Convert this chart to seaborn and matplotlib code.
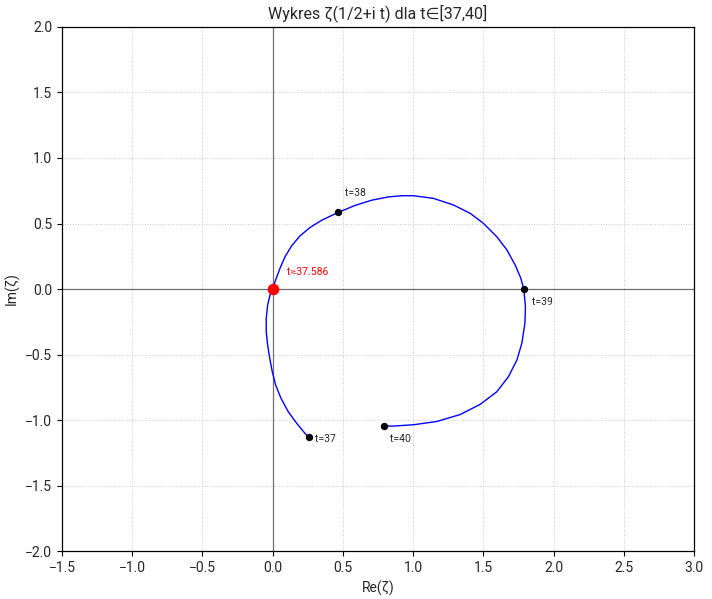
import matplotlib
matplotlib.use("Agg")
import matplotlib.pyplot as plt
import seaborn as sns
import pandas as pd

# curve of zeta(1/2 + i t), t in [37, 40]
re_vals = [0.259, 0.230, 0.171, 0.111, 0.059, 0.021, -0.003, -0.021, -0.036, -0.046,
           -0.046, -0.036, -0.019, 0.0,
           0.021, 0.052, 0.088, 0.135, 0.194, 0.266, 0.349, 0.467, 0.586, 0.705, 0.824,
           0.919, 1.001, 1.144, 1.287, 1.405, 1.500, 1.595, 1.667, 1.726, 1.766, 1.787,
           1.799, 1.795, 1.773, 1.738, 1.678, 1.595, 1.477, 1.334, 1.168, 1.001, 0.859,
           0.793]
im_vals = [-1.132, -1.102, -1.025, -0.937, -0.834, -0.733, -0.631, -0.529, -0.427, -0.326,
           -0.224, -0.122, -0.046, 0.0,
           0.069, 0.158, 0.247, 0.330, 0.405, 0.470, 0.525, 0.585, 0.638, 0.678, 0.703,
           0.712, 0.712, 0.692, 0.641, 0.578, 0.501, 0.399, 0.298, 0.183, 0.082, 0.0,
           -0.135, -0.262, -0.415, -0.542, -0.669, -0.784, -0.880, -0.958, -1.011, -1.036,
           -1.046, -1.046]

mark_t = ["t=37", "t=38", "t=39", "t=40"]
mark_re = [0.259, 0.467, 1.787, 0.793]
mark_im = [-1.132, 0.585, 0.0, -1.046]

zero_label = "t≈37.586"
zero_re = [0.0]
zero_im = [0.0]

sns.set_style("white")
plt.rcParams["font.family"] = ["Roboto", "DejaVu Sans"]

fig = plt.figure(figsize=(7.12, 5.99), dpi=100)
ax = fig.add_axes([0.087, 0.080, 0.888, 0.875])

curve = pd.DataFrame({"re": re_vals, "im": im_vals})
ax.axhline(0, color="#707070", lw=0.9, zorder=1)
ax.axvline(0, color="#707070", lw=0.9, zorder=1)
sns.lineplot(data=curve, x="re", y="im", sort=False, estimator=None,
             color="blue", lw=1.0, ax=ax, zorder=2)

sns.scatterplot(x=mark_re, y=mark_im, color="black", s=28, edgecolor="black",
                linewidth=0, ax=ax, zorder=3)
offsets = [(4.5, -1.5), (5, 14), (6, -9), (4, -9)]
for lab, x, y, off in zip(mark_t, mark_re, mark_im, offsets):
    ax.annotate(lab, (x, y), xytext=off, textcoords="offset points",
                fontsize=7.5, va="center", ha="left")

sns.scatterplot(x=zero_re, y=zero_im, color="red", s=70, edgecolor="red",
                linewidth=0, ax=ax, zorder=4)
ax.annotate(zero_label, (zero_re[0], zero_im[0]), xytext=(10, 12),
            textcoords="offset points", fontsize=7.5, color="red",
            va="center", ha="left")

ax.set_xlim(-1.5, 3.0)
ax.set_ylim(-2.0, 2.0)
ax.set_xticks([-1.5, -1.0, -0.5, 0.0, 0.5, 1.0, 1.5, 2.0, 2.5, 3.0])
ax.set_yticks([-2.0, -1.5, -1.0, -0.5, 0.0, 0.5, 1.0, 1.5, 2.0])
ax.grid(True, linestyle=":", color="#bbbbbb", lw=0.7, alpha=0.8)
for sp in ax.spines.values():
    sp.set_color("black")
    sp.set_linewidth(0.9)
ax.tick_params(axis="both", labelsize=10, length=3.5, width=0.8, color="black",
               bottom=True, left=True)
ax.set_xlabel("Re(ζ)", fontsize=10)
ax.set_ylabel("Im(ζ)", fontsize=10)
ax.set_title("Wykres ζ(1/2+i t) dla t∈[37,40]", fontsize=11.5)

fig.savefig("out.png", dpi=100)
